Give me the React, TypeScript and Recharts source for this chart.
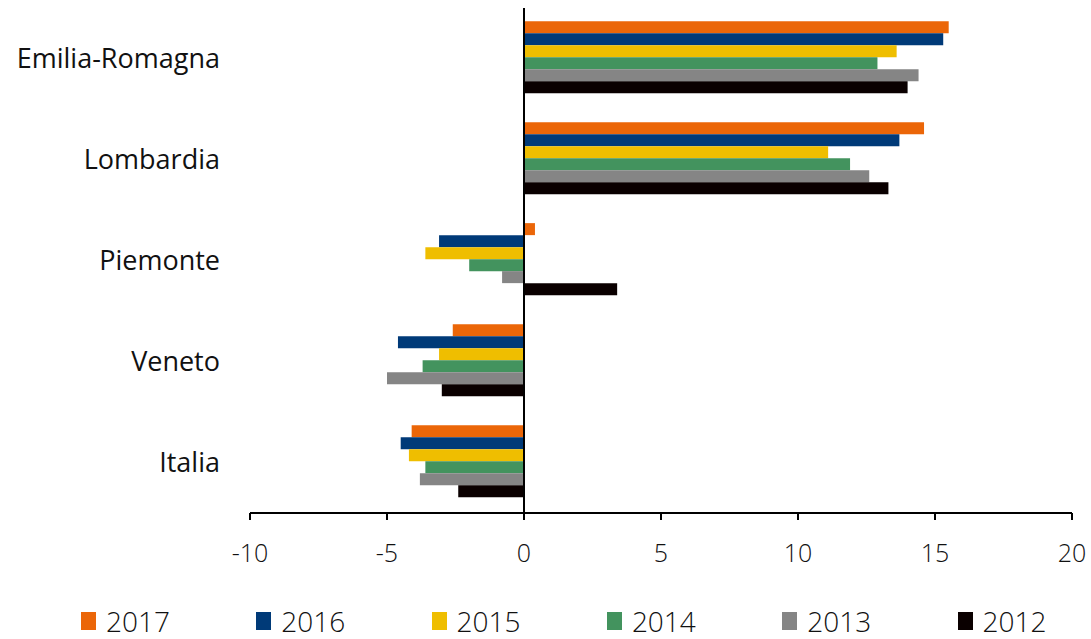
import { BarChart, Bar, XAxis, YAxis, ReferenceLine, Legend } from "recharts";

const regions = ["Emilia-Romagna", "Lombardia", "Piemonte", "Veneto", "Italia"];
const years = ["2017", "2016", "2015", "2014", "2013", "2012"];
const colors = ["#EB6608", "#003A78", "#EFBE00", "#43935E", "#858585", "#0A0000"];

const v2017 = [15.5, 14.6, 0.4, -2.6, -4.1];
const v2016 = [15.3, 13.7, -3.1, -4.6, -4.5];
const v2015 = [13.6, 11.1, -3.6, -3.1, -4.2];
const v2014 = [12.9, 11.9, -2.0, -3.7, -3.6];
const v2013 = [14.4, 12.6, -0.8, -5.0, -3.8];
const v2012 = [14.0, 13.3, 3.4, -3.0, -2.4];

const xTicks = [-10, -5, 0, 5, 10, 15, 20];

const series = [v2017, v2016, v2015, v2014, v2013, v2012];

const data = regions.map((name, i) => {
  const row: Record<string, string | number> = { name };
  years.forEach((y, k) => {
    row[y] = series[k][i];
  });
  return row;
});

const font = "'Open Sans', sans-serif";

function LegendBox() {
  return (
    <div style={{ position: "relative", width: 1091, height: 40, fontFamily: font }}>
      {years.map((y, i) => (
        <div
          key={y}
          style={{
            position: "absolute",
            left: 81 + i * 175.3,
            top: 7,
            display: "flex",
            alignItems: "center",
          }}
        >
          <div style={{ width: 15, height: 18, background: colors[i], marginRight: 10 }} />
          <span style={{ fontSize: 28, fontWeight: 300, color: "#111", lineHeight: "30px" }}>{y}</span>
        </div>
      ))}
    </div>
  );
}

export default function App() {
  return (
    <div style={{ position: "absolute", left: 0, top: 0, background: "#fff" }}>
      <BarChart
        width={1091}
        height={639}
        data={data}
        layout="vertical"
        margin={{ top: 8, right: 19, left: 0, bottom: 0 }}
        barCategoryGap="13%"
        barGap={0}
      >
        <XAxis
          type="number"
          domain={[-10, 20]}
          ticks={xTicks}
          height={86}
          tickSize={7}
          tickMargin={24}
          axisLine={{ stroke: "#000", strokeWidth: 2 }}
          tickLine={{ stroke: "#000", strokeWidth: 2 }}
          tick={{ fill: "#111", fontSize: 25, fontWeight: 300, fontFamily: font }}
          interval={0}
        />
        <YAxis
          type="category"
          dataKey="name"
          width={250}
          axisLine={false}
          tickLine={false}
          tickSize={0}
          tickMargin={30}
          tick={{ fill: "#111", fontSize: 27, fontWeight: 400, fontFamily: font }}
        />
        {years.map((y, i) => (
          <Bar key={y} dataKey={y} fill={colors[i]} isAnimationActive={false} />
        ))}
        <ReferenceLine x={0} stroke="#000" strokeWidth={2} />
        <Legend
          verticalAlign="bottom"
          height={40}
          wrapperStyle={{ left: 0, bottom: 0, width: 1091 }}
          content={() => <LegendBox />}
        />
      </BarChart>
    </div>
  );
}
